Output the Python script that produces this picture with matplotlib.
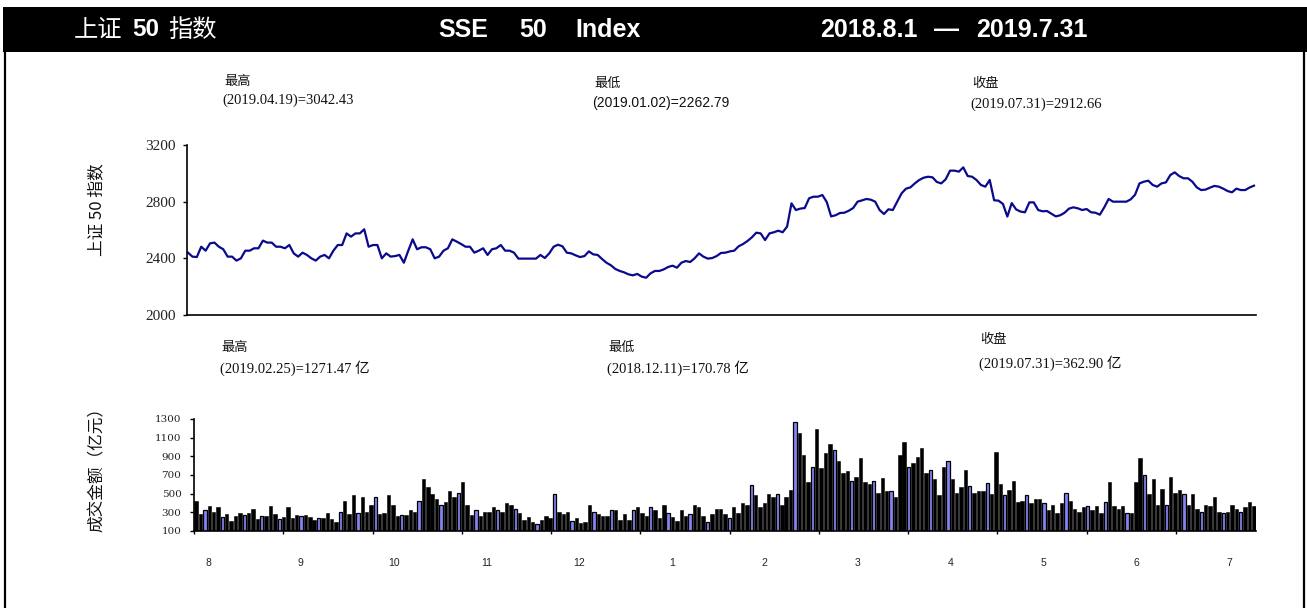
import matplotlib
matplotlib.use("Agg")
import matplotlib.pyplot as plt
import numpy as np
from matplotlib.patches import Rectangle
from matplotlib.lines import Line2D
from matplotlib.transforms import blended_transform_factory

# ---------------- data ----------------
index_close = [
    2440, 2412, 2409, 2482, 2454, 2506, 2511, 2482, 2464, 2412,
    2412, 2384, 2400, 2454, 2454, 2471, 2471, 2525, 2511, 2511,
    2482, 2482, 2471, 2494, 2435, 2412, 2440, 2424, 2400, 2384,
    2412, 2424, 2400, 2454, 2494, 2494, 2576, 2553, 2576, 2576,
    2605, 2482, 2494, 2494, 2400, 2435, 2412, 2416, 2424, 2369,
    2454, 2534, 2464, 2478, 2478, 2464, 2400, 2412, 2454, 2471,
    2534, 2518, 2501, 2482, 2482, 2440, 2454, 2471, 2424, 2464,
    2471, 2494, 2454, 2454, 2440, 2398, 2398, 2398,
    2398, 2398, 2424, 2402, 2435, 2482, 2496, 2485, 2440, 2435,
    2421, 2409, 2416, 2449, 2428, 2424, 2395, 2369, 2351, 2325,
    2311, 2301, 2287, 2280, 2290, 2271, 2263, 2294, 2311, 2311,
    2322, 2339, 2348, 2334, 2369, 2381, 2374, 2400, 2435, 2412,
    2398, 2402, 2416, 2438, 2440, 2449, 2454, 2485, 2501, 2522,
    2548, 2581, 2576, 2529, 2576, 2584, 2595, 2584, 2624, 2788,
    2741, 2751, 2755, 2824, 2835, 2835, 2847, 2798, 2696, 2704,
    2720, 2722, 2736, 2755, 2800, 2809, 2819, 2814, 2800, 2741,
    2713, 2746, 2741, 2800, 2859, 2892, 2901, 2929, 2953, 2969,
    2976, 2972, 2939, 2929, 2958, 3019, 3019, 3012, 3042, 2981,
    2976, 2953, 2918, 2906, 2953, 2810, 2807, 2784, 2695, 2790,
    2745, 2730, 2725, 2795, 2795, 2741, 2732, 2734, 2715, 2696,
    2704, 2722, 2751, 2760, 2753, 2741, 2748, 2725, 2722, 2708,
    2760, 2819, 2800, 2800, 2800, 2800, 2816, 2849, 2929, 2941,
    2948, 2918, 2906, 2929, 2936, 2988, 3007, 2981, 2965, 2965,
    2941, 2901, 2882, 2885, 2899, 2911, 2906, 2892, 2875, 2866,
    2892, 2882, 2882, 2900, 2913,
]

turnover = [
    423, 280, 323, 366, 308, 352, 251, 280, 208, 265,
    294, 276, 294, 341, 233, 262, 258, 366, 280, 233,
    251, 352, 237, 276, 262, 276, 251, 222, 237, 237,
    294, 233, 193, 305, 423, 280, 481, 294, 466, 308,
    380, 466, 280, 298, 481, 380, 265, 276, 269, 323,
    308, 423, 653, 567, 495, 438, 377, 413, 524, 459,
    510, 625, 380, 276, 323, 265, 308, 308, 352, 323,
    308, 395, 380, 341, 294, 222, 251, 193, 171, 222,
    265, 237, 495, 308, 280, 308, 204, 237, 186, 193,
    380, 308, 280, 265, 265, 323, 323, 222, 280, 222,
    323, 352, 294, 265, 352, 323, 237, 380, 294, 251,
    208, 323, 265, 280, 380, 352, 265, 201, 280, 337,
    337, 280, 237, 352, 294, 395, 380, 596, 481, 352,
    395, 495, 466, 495, 380, 466, 538, 1271, 1149, 916,
    628, 783, 1192, 772, 934, 1031, 969, 855, 718, 747,
    639, 682, 883, 628, 599, 639, 510, 668, 528, 528,
    466, 916, 1049, 783, 833, 898, 987, 725, 754, 657,
    484, 783, 855, 653, 510, 567, 754, 581, 510, 528,
    528, 610, 495, 948, 599, 481, 538, 639, 413, 423,
    481, 395, 438, 438, 395, 323, 380, 294, 395, 510,
    423, 337, 308, 359, 366, 330, 366, 294, 409, 625,
    366, 337, 366, 294, 294, 625, 883, 696, 495, 653,
    380, 553, 380, 682, 510, 538, 495, 380, 495, 337,
    308, 380, 366, 466, 308, 294, 308, 380, 337, 308,
    359, 409, 363,
]

# bars that show their light fill in the picture
light_bars = [2, 6, 11, 15, 19, 24, 28, 33, 37, 41, 47, 51, 56, 60, 64, 69,
              73, 78, 82, 86, 91, 95, 100, 104, 108, 113, 117, 122, 127, 133,
              137, 141, 146, 150, 155, 159, 163, 168, 172, 177, 181, 185, 190,
              194, 199, 204, 208, 213, 217, 222, 226, 230, 235, 239]

month_labels = ["8", "9", "10", "11", "12", "1", "2", "3", "4", "5", "6", "7"]
price_ticks = [2000, 2400, 2800, 3200]
volume_ticks = [100, 300, 500, 700, 900, 1100, 1300]

title_cn = ["上证", "50", "指数"]
title_en = ["SSE", "50", "Index"]
title_dates = ["2018.8.1", "—", "2019.7.31"]

price_notes = [("最高", "(2019.04.19)=3042.43"),
               ("最低", "(2019.01.02)=2262.79"),
               ("收盘", "(2019.07.31)=2912.66")]
volume_notes = [("最高", "(2019.02.25)=1271.47 亿"),
                ("最低", "(2018.12.11)=170.78 亿"),
                ("收盘", "(2019.07.31)=362.90 亿")]

# ---------------- figure ----------------
W, H = 1307, 608
fig = plt.figure(figsize=(W / 100, H / 100), dpi=100)
fig.patch.set_facecolor("white")

def fx(px):
    return px / W

def fy(py):
    return 1 - py / H

CJK = ["Noto Sans CJK SC", "DejaVu Sans"]
SERIF = ["Liberation Serif", "Noto Sans CJK SC"]
SANS = ["Liberation Sans", "Noto Sans CJK SC"]

# title bar and frame
fig.patches.append(Rectangle((fx(3), fy(52)), fx(1307) - fx(3), 45 / H,
                             transform=fig.transFigure, facecolor="black",
                             edgecolor="none", zorder=0))
fig.add_artist(Line2D([fx(5), fx(5)], [fy(52), 0], color="black", lw=1.6))
fig.add_artist(Line2D([fx(1303.5), fx(1303.5)], [fy(52), 0], color="black", lw=1.6))

ty = fy(30)
fig.text(fx(74), ty, title_cn[0], color="white", family=CJK, fontsize=17.5, va="center", ha="left")
fig.text(fx(132), ty, title_cn[1], color="white", family=SANS, fontsize=17.5, weight="bold", va="center", ha="left")
fig.text(fx(168), ty, title_cn[2], color="white", family=CJK, fontsize=17.5, va="center", ha="left")

fig.text(fx(438), ty, title_en[0], color="white", family=SANS, fontsize=18, weight="bold", va="center", ha="left")
fig.text(fx(519), ty, title_en[1], color="white", family=SANS, fontsize=18, weight="bold", va="center", ha="left")
fig.text(fx(575), ty, title_en[2], color="white", family=SANS, fontsize=18, weight="bold", va="center", ha="left")

fig.text(fx(820), ty, title_dates[0], color="white", family=SANS, fontsize=18, weight="bold", va="center", ha="left")
fig.text(fx(947), ty, title_dates[1], color="white", family=SANS, fontsize=18, weight="bold", va="center", ha="center")
fig.text(fx(976), ty, title_dates[2], color="white", family=SANS, fontsize=18, weight="bold", va="center", ha="left")

# ---------------- price axes ----------------
ax1 = fig.add_axes([fx(187), fy(315), (1256 - 187) / W, (315 - 145) / H])
n = len(index_close)
x = np.arange(n)
ax1.plot(x, index_close, color="#0a0a8c", lw=1.6, solid_joinstyle="round")
ax1.set_ylim(2000, 3200)
ax1.set_xlim(-0.23, n - 1 + 0.45)
ax1.set_yticks(price_ticks)
ax1.set_yticklabels([str(v) for v in price_ticks], family=SERIF, fontsize=11, color="#222222")
ax1.set_xticks([])
for s in ["top", "right"]:
    ax1.spines[s].set_visible(False)
for s in ["left", "bottom"]:
    ax1.spines[s].set_linewidth(1.2)
ax1.tick_params(axis="y", direction="out", length=3, width=1.0, pad=5)
ax1.patch.set_alpha(0)

# ---------------- volume axes ----------------
ax2 = fig.add_axes([fx(194), fy(531), (1256 - 194) / W, (531 - 419) / H])
colors = ["black"] * n
edge_w = [0.4] * n
for i in light_bars:
    colors[i] = "#8484f4"
    edge_w[i] = 0.9
ax2.bar(x, [v - 100 for v in turnover], bottom=100, width=0.78,
        color=colors, edgecolor="black", linewidth=edge_w)
ax2.set_ylim(100, 1300)
ax2.set_xlim(-0.5, n - 0.5)
ax2.set_yticks(volume_ticks)
ax2.set_yticklabels([str(v) for v in volume_ticks], family=["DejaVu Serif"], fontsize=7.5, color="#222222")
tick_pos = np.linspace(-0.5, 224.2, 12)
ax2.set_xticks(tick_pos)
ax2.set_xticklabels([])
for s in ["top", "right"]:
    ax2.spines[s].set_visible(False)
for s in ["left", "bottom"]:
    ax2.spines[s].set_linewidth(1.2)
ax2.tick_params(axis="y", direction="out", length=3, width=1.0, pad=6)
ax2.tick_params(axis="x", direction="out", length=2.5, width=1.0)
ax2.patch.set_alpha(0)

trans = blended_transform_factory(ax2.transData, fig.transFigure)
for lab, pos in zip(month_labels, np.linspace(2.7, 236.3, 12)):
    ax2.text(pos, fy(563), lab, transform=trans, ha="center", va="center",
             family=SANS, fontsize=7.5, color="#222222")

# ---------------- axis titles ----------------
fig.text(fx(97), fy(210), "上证 50 指数", rotation=90, family=CJK, fontsize=12,
         ha="center", va="center", color="#111111")
fig.text(fx(97), fy(466), "成交金额（亿元）", rotation=90, family=CJK, fontsize=12,
         ha="center", va="center", color="#111111")

# ---------------- notes ----------------
price_note_pos = [(224, 81, 100, SERIF), (594, 83, 103, SANS), (972, 83, 104, SERIF)]
for (head, body), (px, yh, yb, fam) in zip(price_notes, price_note_pos):
    fig.text(fx(px), fy(yh), head, family=CJK, fontsize=9.5, ha="left", va="center", color="#111111")
    fig.text(fx(px - 2), fy(yb), body, family=fam, fontsize=10.5 if fam is SERIF else 10,
             ha="left", va="center", color="#111111")

volume_note_pos = [(220, 347, 368), (607, 347, 368), (979, 340, 363)]
for (head, body), (px, yh, yb) in zip(volume_notes, volume_note_pos):
    fig.text(fx(px + 1), fy(yh), head, family=CJK, fontsize=9.5, ha="left", va="center", color="#111111")
    fig.text(fx(px), fy(yb), body, family=SERIF, fontsize=10.5, ha="left", va="center", color="#111111")

fig.savefig("out.png", dpi=100, facecolor="white")
